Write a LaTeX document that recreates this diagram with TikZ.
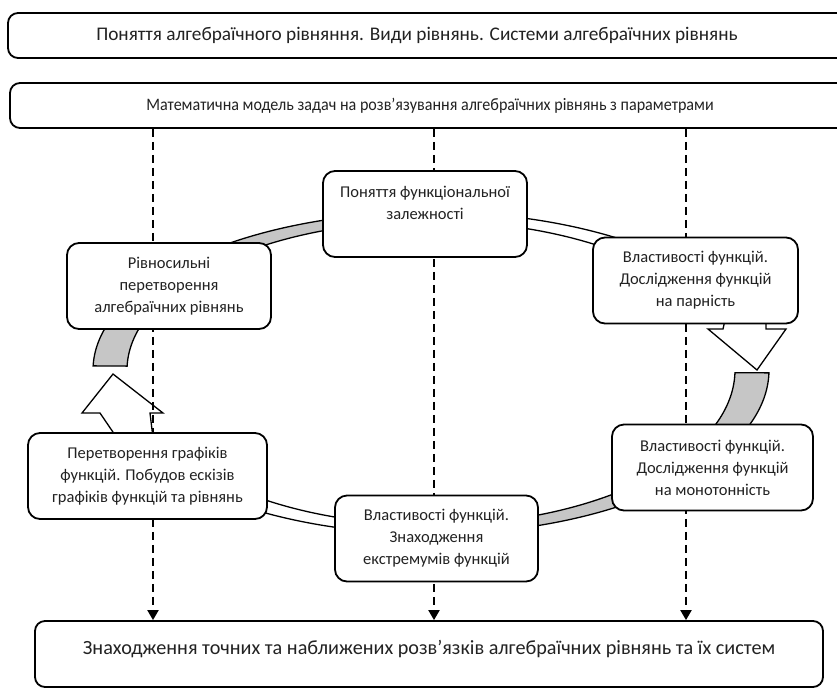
\documentclass[tikz,border=0pt]{standalone}
\usepackage{fontspec}
\setmainfont{Carlito}
\usetikzlibrary{arrows.meta,calc}
\definecolor{txt}{HTML}{222222}
\definecolor{bandgray}{HTML}{C6C6C6}
\newcommand\ringband[3]{%
  \draw[#1] plot[domain=#2:#3, samples=40, smooth] ({431+338*cos(\x)},{370+(sin(\x)>0 ? 164 : 158)*sin(\x)})
    -- plot[domain=#3:#2, samples=40, smooth] ({431+304*cos(\x)},{370+(sin(\x)>0 ? 155 : 149)*sin(\x)}) -- cycle;}
\begin{document}
\begin{tikzpicture}[x=1pt,y=-1pt,
  box/.style={draw=black, line width=1.8pt, rounded corners=12pt, fill=white, align=center,
    text=txt, inner sep=0pt, minimum height=86pt, font=\fontsize{16.5}{22}\selectfont},
  topbox/.style={draw=black, line width=1.8pt, rounded corners=10pt, fill=white, text=txt, inner sep=0pt},
  bandg/.style={draw=black, line width=1.3pt, fill=bandgray},
  bandw/.style={draw=black, line width=1.3pt, fill=white},
  headw/.style={draw=black, line width=1.3pt, fill=white, line join=miter},
  dashar/.style={draw=black, line width=2pt, dash pattern=on 8pt off 5pt, -{Triangle[length=10pt,width=11pt]}}]
\useasboundingbox (0,0) rectangle (837,689);
\clip (0,0) rectangle (837,689);

% ring segments
\ringband{bandg}{225}{265}
\ringband{bandw}{272}{312}
\ringband{bandg}{1}{46}
\ringband{bandg}{48}{95}
\ringband{bandw}{100}{132}
\ringband{bandg}{181.5}{222}

% block arrow heads
\draw[headw] (725,320) -- (723,329) -- (708,329) -- (757,370) -- (786,329) -- (766,329) -- (766,320) -- cycle;
\draw[headw] (117,438) -- (100,413) -- (82,413) -- (113,374) -- (163,413) -- (150,413) -- (153,438) -- cycle;

% top boxes
\node[topbox, minimum width=842pt, minimum height=45pt, font=\fontsize{19.3}{22}\selectfont] (t1) at (429,35.5)
  {Поняття алгебраїчного рівняння. Види рівнянь. Системи алгебраїчних рівнянь\hspace*{24pt}};
\node[topbox, minimum width=840pt, minimum height=45pt, font=\fontsize{17.5}{20}\selectfont] (m) at (430,105.5)
  {\scalebox{0.92}[1]{Математична модель задач на розв’язування алгебраїчних рівнянь з параметрами}};

% bottom box
\node[topbox, minimum width=788pt, minimum height=66pt, text height=14pt, text depth=14pt,
  font=\fontsize{20.2}{22}\selectfont] (res) at (429,654)
  {Знаходження точних та наближених розв’язків алгебраїчних рівнянь та їх систем};

\coordinate (xl) at (153,0);
\coordinate (xc) at (434,0);
\coordinate (xr) at (686,0);

\draw[dashar] (m.south -| xl) -- (res.north -| xl);
\draw[dashar] (m.south -| xc) -- (res.north -| xc);
\draw[dashar] (m.south -| xr) -- (res.north -| xr);

% cycle boxes
\node[box, minimum width=204pt] (A) at (425,214) {Поняття функціональної\\залежності\\\mbox{}};
\node[box, minimum width=205pt] (B) at (695.5,280.5) {Властивості функцій.\\Дослідження функцій\\на парність};
\node[box, minimum width=201pt] (C) at (712.5,467.5) {Властивості функцій.\\Дослідження функцій\\на монотонність};
\node[box, minimum width=203pt] (D) at (436.5,538.5) {Властивості функцій.\\Знаходження\\екстремумів функцій};
\node[box, minimum width=239pt] (E) at (147.5,476) {Перетворення графіків\\функцій. Побудов ескізів\\графіків функцій та рівнянь};
\node[box, minimum width=204pt] (F) at (169,286) {Рівносильні\\перетворення\\алгебраїчних рівнянь};
\end{tikzpicture}
\end{document}
